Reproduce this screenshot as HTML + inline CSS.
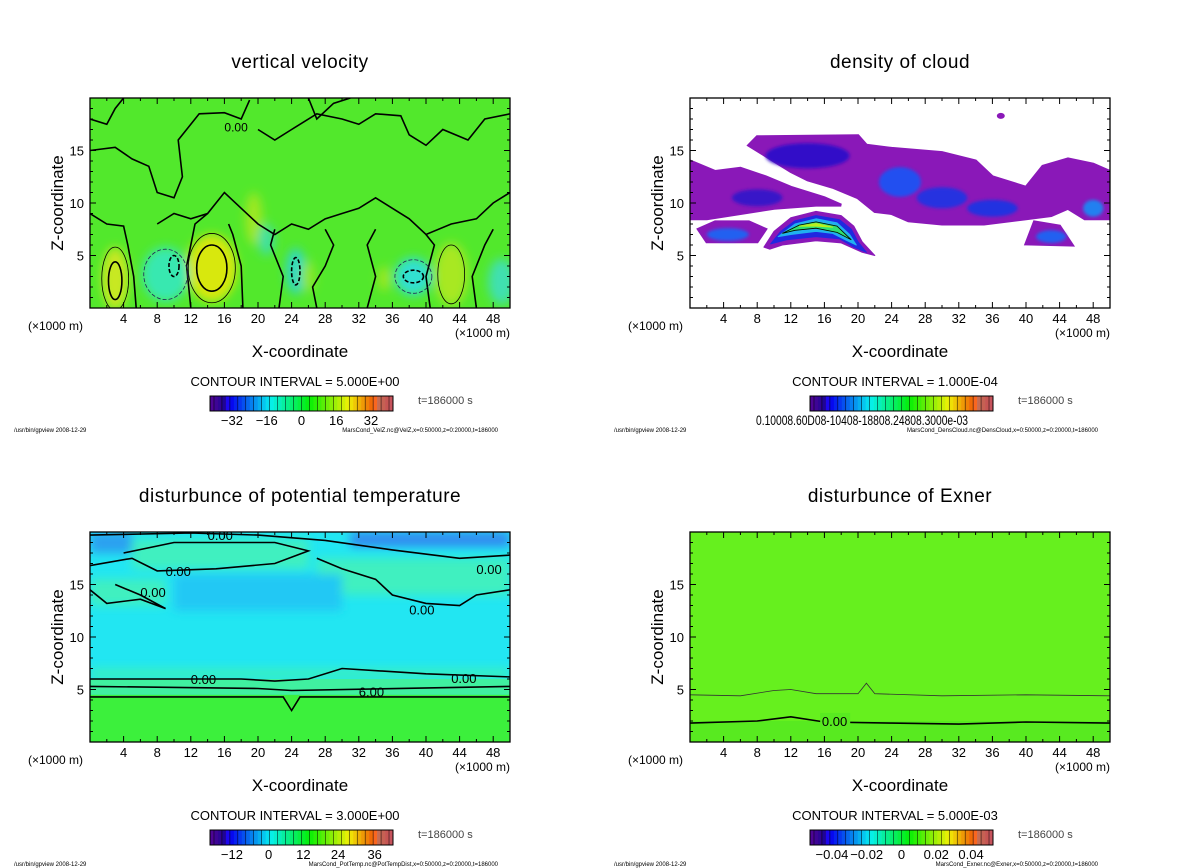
<!DOCTYPE html>
<html><head><meta charset="utf-8"><style>
body{margin:0;background:#fff;}
svg{display:block;font-family:"Liberation Sans","DejaVu Sans",sans-serif;}
</style></head><body>
<svg id="s" width="1200" height="868" viewBox="0 0 1200 868" xmlns="http://www.w3.org/2000/svg">
<defs>
<filter id="bl" x="-50%" y="-50%" width="200%" height="200%"><feGaussianBlur stdDeviation="5"/></filter>
<filter id="bl2" x="-50%" y="-50%" width="200%" height="200%"><feGaussianBlur stdDeviation="1.5"/></filter>
<clipPath id="c0"><rect x="90" y="98" width="420" height="210"/></clipPath>
<clipPath id="c1"><rect x="690" y="98" width="420" height="210"/></clipPath>
<clipPath id="c2"><rect x="90" y="532" width="420" height="210"/></clipPath>
<clipPath id="c3"><rect x="690" y="532" width="420" height="210"/></clipPath>
</defs>
</svg>
<script>
// ---- data (x in km, z in km) ----
const xTicks=[4,8,12,16,20,24,28,32,36,40,44,48];
const zTicks=[5,10,15];
const titles=["vertical velocity","density of cloud","disturbunce of potential temperature","disturbunce of Exner"];
const intervals=["CONTOUR INTERVAL = 5.000E+00","CONTOUR INTERVAL = 1.000E-04","CONTOUR INTERVAL = 3.000E+00","CONTOUR INTERVAL = 5.000E-03"];
const cbLabels=[["-32","-16","0","16","32"],[],["-12","0","12","24","36"],["-0.04","-0.02","0","0.02","0.04"]];
const cbLabelPos=[[0.12,0.31,0.5,0.69,0.88],[],[0.12,0.32,0.51,0.70,0.90],[0.12,0.31,0.5,0.69,0.88]];
const files=["MarsCond_VelZ.nc@VelZ,x=0:50000,z=0:20000,t=186000","MarsCond_DensCloud.nc@DensCloud,x=0:50000,z=0:20000,t=186000","MarsCond_PotTemp.nc@PotTempDist,x=0:50000,z=0:20000,t=186000","MarsCond_Exner.nc@Exner,x=0:50000,z=0:20000,t=186000"];
// panel 1 blobs [x,z,rx,rz,color]
const velBlobs=[[3,2.8,1.6,3,"#c8e820"],[14.5,3.8,3,3.2,"#d8e810"],[9,3.2,2.8,2.6,"#38e8b0"],[24.5,3.5,1.2,2.2,"#30d8c0"],[38.5,3,2.2,1.8,"#30e0d0"],[49,2.5,1.6,2.2,"#40e0b0"],[43,3.2,2,3,"#a8e820"],[19.5,8.5,1,2.5,"#a0e820"],[21,6.5,1,1.5,"#40e0a0"],[26,3,0.8,1.5,"#90e828"],[35,2.8,0.7,1.2,"#a0e820"]];
const velContours=[
[[0,15],[3,15.3],[5,14.2],[7,13.5],[8,11],[10,10.5],[11,12.5],[10.5,16],[13,18.5],[16,18.6],[18,18],[19,19.8]],
[[20,17],[22,16],[24,17],[27,18.5],[30,18],[32,17.5],[34,18.5],[37,18.3],[38,16.5],[40,15.5],[42,17],[45,16],[47,18],[50,18.5]],
[[8,8],[10,9],[12,8.5],[14,9],[16,11],[18,9.5],[20,8],[22,7],[24,8],[26,7.5],[28,8.5],[30,9],[32,9.5],[34,10.5],[36,9.5],[38,8.5],[40,7],[43,8],[46,8.5],[48,10],[50,11]],
[[5.5,0],[5.2,3],[4.5,6],[4,7.8],[2,8],[0,9]],
[[12,0],[11.5,4],[12.5,8],[14,9]],
[[18.2,0],[18,4],[17,7],[16.5,8]],
[[22.5,0],[23,3],[21.5,6],[22,7.5]],
[[27,0],[26.5,2],[28,4],[29,6],[28,7.5]],
[[33,0],[34,3],[33,6],[34,7.5]],
[[40.5,0],[40,3],[41,6],[40,7]],
[[46,0],[45.5,3],[47,6],[48,7.5]],
[[0,18],[2,17.5],[3,19],[4,20]],
[[26,20],[27,18],[29,19.5],[31,20]]];
const velRings=[[3,2.6,0.8,1.8,1],[14.5,3.8,1.8,2.2,1],[3,2.8,1.6,3,0],[14.5,3.8,2.8,3.3,0],[43,3.2,1.6,2.8,0],[10,4,0.6,1,2],[24.5,3.5,0.5,1.3,2],[38.5,3,1.2,0.6,2],[9,3.2,2.6,2.4,3],[38.5,3,2.2,1.6,3]];
// panel 2 cloud polygons
const cloudA=[[0,8.5],[0,14],[3,13],[6,13.3],[9,12.5],[12,11.5],[16,10.5],[18,9.8],[15,9.8],[10,9.5],[6,9],[2,8.5]];
const cloudB=[[7,15.5],[8,16.3],[20,16.4],[21,15.5],[24,15.2],[30,14.8],[34,14],[36,12.5],[40,11.5],[42,13.5],[45,14.2],[48,13.7],[50,13],[50,8.5],[47,8.5],[45,9.5],[43,8.8],[40,8.5],[35,8],[30,8],[26,8.3],[24,9],[22,9.2],[20,10.5],[17,11.5],[14,12.2],[12,13],[10,14]];
const cloudC=[[1,7.5],[2,6.3],[8,6.3],[9,7.5],[7,8.2],[3,8.2]];
const cloudD=[[40,6.1],[45.5,6],[44,7.8],[41,8.2]];
const cloudBlue=[[14,14.5,5,1.2,"#3010c8"],[25,12,2.5,1.4,"#2050f0"],[30,10.5,3,1,"#2830e0"],[36,9.5,3,0.8,"#2030e0"],[4.5,7,2.5,0.6,"#2060f0"],[43,6.8,1.8,0.6,"#2060f0"],[48,9.5,1.2,0.8,"#2080f0"],[8,10.5,3,0.8,"#3818c8"]];
const crescentPurple=[[8.8,5.8],[10,7.3],[12,8.6],[15,9.2],[18,8.8],[19.5,7.8],[20.5,6.3],[22,5],[20.5,5.3],[18,6.2],[15,6.4],[11,6],[9.5,5.6]];
const crescentBlue=[[9.6,6.1],[10.8,7.3],[12.5,8.3],[15,8.8],[17.8,8.4],[19.2,7.5],[20,6.3],[21,5.3],[19.5,5.8],[17.8,6.6],[15,6.8],[11.5,6.5]];
const crescentCyan=[[10.5,6.8],[12.5,8],[15,8.5],[17.5,8.1],[19,7],[19.8,6],[18.5,6.5],[17,7.1],[15,7.3],[12,7]];
const crescentGreen=[[11,7.1],[13,7.9],[15,8.2],[17.5,7.8],[19.2,6.5],[17.5,7.2],[15,7.6],[12.5,7.4]];
const crescentYellow=[[13,7.8],[15,8.05],[17,7.7],[15,7.8]];
// panel 3 regions [x0,z0,x1,z1,color]
const ptRegions=[[0,6,50,7,"#38f0c0"],[5,16.5,26,19.3,"#40f0c0"],[27,14,50,17.5,"#40f0c0"],[0,13,9,15.5,"#40f0c0"],[0,18,5,20,"#2aa0f0"],[31,18.6,50,20,"#3088f0"],[10,12.5,30,16,"#20c8f4"]];
const ptContours=[[[0,6],[10,6],[18,6],[22,5.8],[26,6],[30,7],[40,6.5],[50,6.2]],[[0,5.3],[20,5.1],[24,4.9],[50,5.3]],[[0,4.3],[23,4.3],[24,3],[25,4.3],[50,4.3]],[[0,16.8],[5,17.5],[8,16.3],[15,16.5],[22,17],[26,18.2],[22,19],[10,19],[4,18]],[[27,17.5],[30,16.5],[34,15.5],[36,14],[40,13.2],[44,13],[46,14],[50,14.5]],[[0,14.5],[2,13.2],[6,13.6],[9,12.7],[6,14],[3,15]],[[0,19.7],[12,19.9],[20,19.7],[28,19.2],[36,18.3],[44,17.5],[50,17.8]]];
const ptLabels=[[12,6,"0.00"],[32,4.8,"6.00"],[43,6.1,"0.00"],[9,16.3,"0.00"],[6,14.3,"0.00"],[38,12.6,"0.00"],[46,16.5,"0.00"],[14,19.7,"0.00"]];
// panel 4 contours
const exThin=[[0,4.5],[6,4.4],[10,4.9],[12,5],[15,4.6],[20,4.6],[21,5.6],[22,4.6],[30,4.4],[40,4.5],[50,4.4]];
const exThick=[[0,1.8],[8,2],[12,2.4],[16,1.9],[24,1.8],[32,1.7],[40,1.9],[50,1.8]];

const svg=document.getElementById('s');
const NS="http://www.w3.org/2000/svg";
function mk(tag,attrs,parent,text){const e=document.createElementNS(NS,tag);for(const k in attrs)e.setAttribute(k,attrs[k]);if(text!==undefined)e.textContent=text;(parent||svg).appendChild(e);return e;}
function scales(ox,oy){return {X:x=>ox+90+x/50*420,Z:z=>oy+308-z/20*210};}
function pts(arr,s){return arr.map(p=>s.X(p[0]).toFixed(1)+","+s.Z(p[1]).toFixed(1)).join(" ");}

const offs=[[0,0],[600,0],[0,434],[600,434]];
offs.forEach((o,i)=>{
  const [ox,oy]=o;const s=scales(ox,oy);
  const g=mk('g',{'clip-path':`url(#c${i})`});
  
  
  if(i===0){
    mk('rect',{x:ox+90,y:oy+98,width:420,height:210,fill:'#52e82c'},g);
    const bg=mk('g',{filter:'url(#bl)'},g);
    velBlobs.forEach(b=>{const e=mk('ellipse',{cx:s.X(b[0]),cy:s.Z(b[1]),rx:b[2]/50*420,ry:b[3]/20*210,fill:b[4]},bg);});
    velContours.forEach(c=>{const e=mk('polyline',{points:pts(c,s),fill:'none',stroke:'#000','stroke-width':1.6},g);});
    velRings.forEach(r=>{const e=mk('ellipse',{cx:s.X(r[0]),cy:s.Z(r[1]),rx:r[2]/50*420,ry:r[3]/20*210,fill:'none',stroke:r[4]===3?'#225':'#000','stroke-width':r[4]===1||r[4]===2?1.6:0.8,'stroke-dasharray':r[4]>=2?'4,2':'none'},g);});
    mk('text',{x:s.X(16),y:s.Z(16.8),'font-size':12},g,'0.00');
  }
  if(i===1){
    mk('rect',{x:ox+90,y:oy+98,width:420,height:210,fill:'#fff'},g);
    [cloudA,cloudB,cloudC,cloudD].forEach(c=>{const e=mk('polygon',{points:pts(c,s),fill:'#8a18b8',stroke:'#8a18b8','stroke-width':3},g);});
    const bg=mk('g',{filter:'url(#bl2)'},g);
    cloudBlue.forEach(b=>{const e=mk('ellipse',{cx:s.X(b[0]),cy:s.Z(b[1]),rx:b[2]/50*420,ry:b[3]/20*210,fill:b[4]},bg);});
    [[crescentPurple,'#8a18b8'],[crescentBlue,'#2028e0'],[crescentCyan,'#20b0f0'],[crescentGreen,'#30e070'],[crescentYellow,'#b8f020']].forEach(l=>{const e=mk('polygon',{points:pts(l[0],s),fill:l[1],stroke:l[1],'stroke-width':1,'stroke-linejoin':'round'},g);});
    let e=mk('polygon',{points:pts(crescentGreen,s),fill:'none',stroke:'#000','stroke-width':0.8},g);
    mk('ellipse',{cx:s.X(37),cy:s.Z(18.3),rx:4,ry:3,fill:'#8a18b8'},g);
  }
  if(i===2){
    mk('rect',{x:ox+90,y:oy+98,width:420,height:210,fill:'#22e6f2'},g);
    const bg=mk('g',{filter:'url(#bl)'},g);
    ptRegions.forEach(r=>{const e=mk('rect',{x:s.X(r[0]),y:s.Z(r[3]),width:s.X(r[2])-s.X(r[0]),height:s.Z(r[1])-s.Z(r[3]),fill:r[4]},bg);});
    mk('rect',{x:ox+90,y:s.Z(6),width:420,height:s.Z(4.5)-s.Z(6),fill:'#40f0a0'},g);
    mk('rect',{x:ox+90,y:s.Z(4.5),width:420,height:s.Z(0)-s.Z(4.5),fill:'#3cf03c'},g);
    ptContours.forEach(c=>{const e=mk('polyline',{points:pts(c,s),fill:'none',stroke:'#000','stroke-width':1.6},g);});
    ptLabels.forEach(l=>{const e=mk('text',{x:s.X(l[0]),y:s.Z(l[1])+5,'font-size':13,fill:'#000'},g,l[2]);});
  }
  if(i===3){
    mk('rect',{x:ox+90,y:oy+98,width:420,height:210,fill:'#66f01e'},g);
    mk('rect',{x:ox+90,y:s.Z(2),width:420,height:s.Z(0)-s.Z(2),fill:'#58ea20'},g);
    let e=mk('polyline',{points:pts(exThin,s),fill:'none',stroke:'#333','stroke-width':0.8},g);
    e=mk('polyline',{points:pts(exThick,s),fill:'none',stroke:'#000','stroke-width':1.6},g);
    mk('rect',{x:s.X(15.5),y:s.Z(2.2)-6,width:30,height:12,fill:'#58ea20'},g);
    mk('text',{x:s.X(15.7),y:s.Z(2)+5,'font-size':13},g,'0.00');
  }
  const fr=mk('rect',{x:ox+90,y:oy+98,width:420,height:210,fill:'none',stroke:'#000','stroke-width':1.3});
  
  for(let x=2;x<50;x+=2){const L=(x%4===0)?6:3;mk('line',{x1:s.X(x),x2:s.X(x),y1:oy+308,y2:oy+308-L,stroke:'#000'});mk('line',{x1:s.X(x),x2:s.X(x),y1:oy+98,y2:oy+98+L,stroke:'#000'});}
  for(let z=1;z<20;z++){const L=(z%5===0)?6:3;mk('line',{x1:ox+90,x2:ox+90+L,y1:s.Z(z),y2:s.Z(z),stroke:'#000'});mk('line',{x1:ox+510,x2:ox+510-L,y1:s.Z(z),y2:s.Z(z),stroke:'#000'});}
  xTicks.forEach(x=>{const t=mk('text',{x:s.X(x),y:oy+323,'font-size':13,'text-anchor':'middle'},svg,x);});
  zTicks.forEach(z=>{const t=mk('text',{x:ox+84,y:s.Z(z)+5,'font-size':13,'text-anchor':'end'},svg,z);});
  let t=mk('text',{x:ox+300,y:oy+68,'font-size':19,'text-anchor':'middle','letter-spacing':'0.5'},svg,titles[i]);
  t=mk('text',{x:ox+63,y:oy+203,'font-size':17,'text-anchor':'middle',transform:`rotate(-90 ${ox+63} ${oy+203})`},svg,'Z-coordinate');
  t=mk('text',{x:ox+300,y:oy+357,'font-size':17,'text-anchor':'middle'},svg,'X-coordinate');
  t=mk('text',{x:ox+28,y:oy+330,'font-size':12},svg,'(×1000 m)');
  t=mk('text',{x:ox+455,y:oy+337,'font-size':12},svg,'(×1000 m)');
  t=mk('text',{x:ox+295,y:oy+386,'font-size':13,'text-anchor':'middle'},svg,intervals[i]);
  const cb=mk('g',{});
  const n=46,w=183/n;
  for(let k=0;k<n;k++){const f=k/(n-1);let h,l;h=270-f*275;if(h<0)h+=360;l=f<0.08?30:(f>0.9?55:48);mk('rect',{x:ox+210+k*w,y:oy+396,width:w+0.3,height:15,fill:`hsl(${h},${f>0.92?50:95}%,${l}%)`},cb);if(k%2)mk('line',{x1:ox+210+k*w,x2:ox+210+k*w,y1:oy+396,y2:oy+411,stroke:'#000','stroke-width':0.5},cb);}
  mk('rect',{x:ox+210,y:oy+396,width:183,height:15,fill:'none',stroke:'#000','stroke-width':1},cb);
  cbLabels[i].forEach((lb,k)=>{const e=mk('text',{x:ox+210+cbLabelPos[i][k]*183,y:oy+425,'font-size':13,'text-anchor':'middle'},svg,lb.replace('-','−'));});
  if(i===1){const e=mk('text',{x:ox+156,y:oy+425,'font-size':14,textLength:212,lengthAdjust:'spacingAndGlyphs'},svg,'0.10008.60D08-10408-18808.24808.3000e-03');}
  t=mk('text',{x:ox+418,y:oy+404,'font-size':11,fill:'#444'},svg,'t=186000  s');
  t=mk('text',{x:ox+14,y:oy+432,'font-size':6},svg,'/usr/bin/gpview   2008-12-29');
  t=mk('text',{x:ox+498,y:oy+432,'font-size':6,'text-anchor':'end'},svg,files[i]);
});
</script>
</body></html>
